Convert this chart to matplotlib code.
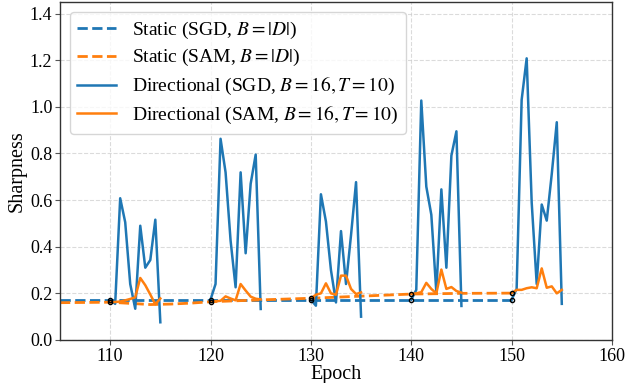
import numpy as np
import matplotlib
matplotlib.use("Agg")
import matplotlib.pyplot as plt

plt.rcParams['font.family'] = ['Liberation Serif', 'DejaVu Serif']
plt.rcParams['mathtext.fontset'] = 'stix'

# Static runs (full batch)
static_epochs = [105, 110, 112, 114, 116, 118, 120, 125, 130, 135, 140, 145, 150]
static_sgd = [0.173, 0.173, 0.173, 0.173, 0.173, 0.173, 0.173, 0.173, 0.173, 0.173, 0.173, 0.173, 0.173]
static_sam = [0.160, 0.162, 0.157, 0.152, 0.154, 0.158, 0.164, 0.172, 0.179, 0.188, 0.197, 0.200, 0.201]

# Directional runs branching at these epochs, sampled every half epoch
branch_epochs = [110, 120, 130, 140, 150]
step = 0.5
dir_sgd = [
    [0.173, 0.155, 0.608, 0.505, 0.240, 0.134, 0.490, 0.310, 0.343, 0.516, 0.076],
    [0.173, 0.240, 0.863, 0.719, 0.426, 0.226, 0.719, 0.372, 0.670, 0.795, 0.133],
    [0.173, 0.147, 0.625, 0.508, 0.300, 0.161, 0.467, 0.240, 0.450, 0.677, 0.100],
    [0.173, 0.215, 1.027, 0.658, 0.537, 0.205, 0.646, 0.310, 0.791, 0.895, 0.146],
    [0.173, 0.219, 1.030, 1.208, 0.590, 0.240, 0.581, 0.512, 0.712, 0.934, 0.155],
]
dir_sam = [
    [0.162, 0.163, 0.165, 0.170, 0.176, 0.183, 0.266, 0.235, 0.195, 0.153, 0.178],
    [0.166, 0.166, 0.168, 0.187, 0.178, 0.170, 0.240, 0.212, 0.186, 0.177, 0.174],
    [0.179, 0.194, 0.200, 0.243, 0.200, 0.194, 0.276, 0.276, 0.219, 0.197, 0.204],
    [0.197, 0.200, 0.205, 0.245, 0.219, 0.200, 0.302, 0.219, 0.227, 0.210, 0.203],
    [0.201, 0.215, 0.215, 0.222, 0.226, 0.222, 0.307, 0.224, 0.230, 0.200, 0.215],
]

labels = [r'Static (SGD, $B=|D|$)', r'Static (SAM, $B=|D|$)',
          r'Directional (SGD, $B=16, T=10$)', r'Directional (SAM, $B=16, T=10$)']
c_blue = '#1f77b4'
c_orange = '#ff7f0e'

fig = plt.figure(figsize=(6.26, 3.83), dpi=100)
ax = fig.add_axes([0.0958, 0.1123, 0.8818, 0.8827])

ax.plot(static_epochs, static_sgd, '--', color=c_blue, lw=2, label=labels[0])
ax.plot(static_epochs, static_sam, '--', color=c_orange, lw=2, label=labels[1])

for i, b in enumerate(branch_epochs):
    xs = b + step * np.arange(len(dir_sgd[i]))
    ax.plot(xs, dir_sgd[i], '-', color=c_blue, lw=1.8, label=labels[2] if i == 0 else None)
for i, b in enumerate(branch_epochs):
    xs = b + step * np.arange(len(dir_sam[i]))
    ax.plot(xs, dir_sam[i], '-', color=c_orange, lw=1.8, label=labels[3] if i == 0 else None)

# branch markers
ss = np.interp(branch_epochs, static_epochs, static_sgd)
sa = np.interp(branch_epochs, static_epochs, static_sam)
ax.plot(branch_epochs, ss, 'o', ms=3, mfc='none', mec='black', mew=1, zorder=5)
ax.plot(branch_epochs, sa, 'o', ms=3, mfc='none', mec='black', mew=1, zorder=5)

ax.set_xlim(105, 160)
ax.set_ylim(0, 1.45)
ax.set_xticks([110, 120, 130, 140, 150, 160])
ax.set_yticks([0.0, 0.2, 0.4, 0.6, 0.8, 1.0, 1.2, 1.4])
ax.tick_params(labelsize=13, color='#555555', length=3.5, pad=2)
ax.grid(True, linestyle='--', color='#cccccc', alpha=0.7, lw=0.8)
for s in ax.spines.values():
    s.set_color('#333333')
    s.set_linewidth(1.0)
ax.set_xlabel('Epoch', fontsize=14.5, labelpad=0)
ax.set_ylabel('Sharpness', fontsize=14.5, labelpad=2)

leg = ax.legend(loc='upper left', fontsize=14, frameon=True, fancybox=True,
                edgecolor='#cccccc', framealpha=0.8, borderaxespad=0.5,
                labelspacing=0.35)

fig.savefig('out.png', dpi=100)
